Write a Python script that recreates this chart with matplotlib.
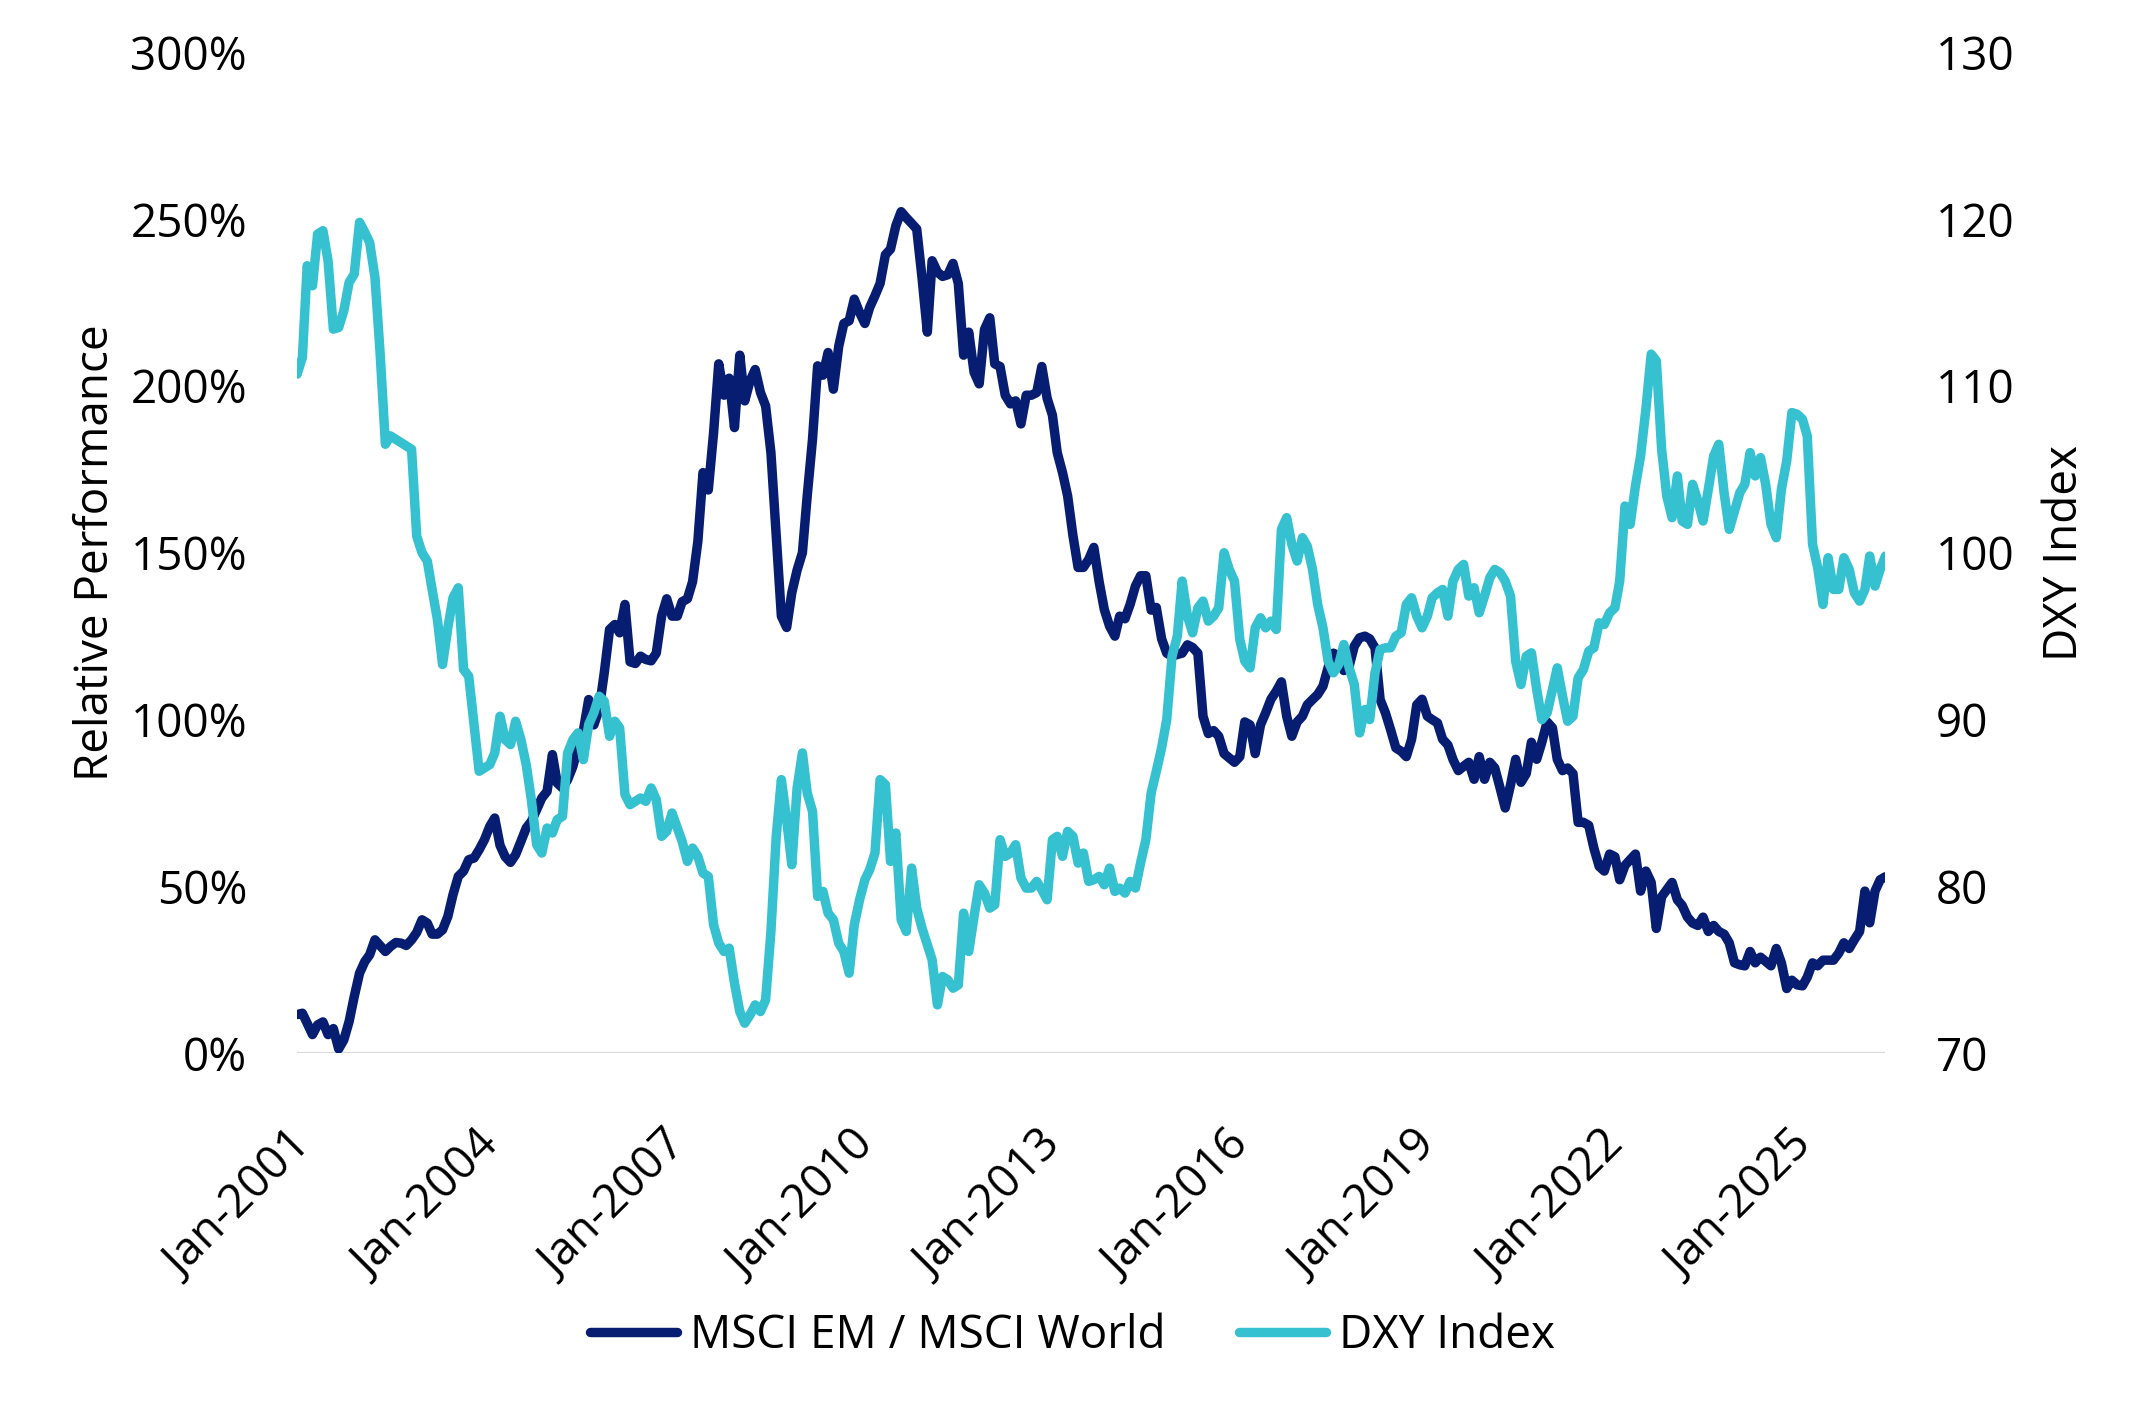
import matplotlib
matplotlib.use("Agg")
import matplotlib.pyplot as plt
import matplotlib.dates as mdates
import matplotlib.ticker as mticker
import matplotlib.transforms as mtrans
import pandas as pd

plt.rcParams['font.family'] = ['Open Sans', 'DejaVu Sans']

# monthly, Jan-2001 onwards
start_month = "2001-01"

# MSCI EM / MSCI World relative performance (%)
em_rel = [
    11.6, 12.0, 9.0, 5.6, 8.5, 9.4, 5.6, 7.4, 1.3, 4.0, 9.5, 17.0,
    24.0, 27.5, 29.5, 34.0, 32.3, 30.5, 32.0, 33.2, 33.0, 32.3, 34.0, 36.2,
    40.0, 39.0, 35.7, 35.7, 37.0, 41.0, 47.5, 53.0, 54.6, 58.0, 58.5, 61.0,
    64.0, 68.0, 70.5, 62.3, 58.9, 57.2, 59.5, 63.5, 67.5, 69.5, 73.0, 76.5,
    78.5, 89.5, 81.0, 79.5, 82.0, 86.0, 92.0, 96.7, 106.0, 98.4, 103.0, 114.0,
    127.0, 128.5, 126.0, 134.5, 117.3, 116.8, 119.0, 118.0, 117.6, 119.9, 131.0, 136.2,
    131.0, 131.0, 135.3, 136.2, 141.3, 153.4, 174.0, 168.8, 186.0, 206.6, 197.2, 202.3,
    187.5, 209.2, 195.5, 201.5, 204.9, 198.0, 194.0, 180.0, 155.0, 131.0, 127.6, 138.0,
    144.8, 150.0, 167.0, 184.0, 206.0, 203.2, 210.0, 199.0, 211.8, 218.7, 219.5, 226.0,
    222.0, 218.7, 223.5, 227.0, 230.7, 239.3, 241.0, 248.0, 252.2, 250.4, 248.7, 247.0,
    232.4, 216.1, 237.5, 234.1, 232.8, 233.3, 236.7, 230.7, 209.2, 216.1, 204.1, 200.6,
    216.9, 220.4, 206.6, 205.8, 197.2, 194.6, 195.5, 188.6, 197.2, 197.2, 198.0, 205.8,
    196.3, 191.2, 180.0, 174.0, 167.0, 155.1, 145.6, 145.6, 148.0, 151.6, 141.3, 133.0,
    128.0, 125.0, 131.0, 130.2, 134.5, 140.0, 143.1, 143.1, 132.8, 133.6, 124.2, 119.9,
    119.0, 119.5, 119.9, 122.4, 121.6, 119.9, 101.0, 95.8, 96.7, 95.0, 89.8, 88.5,
    87.2, 88.9, 99.3, 98.4, 89.8, 98.4, 102.0, 106.1, 108.5, 111.3, 101.0, 95.0,
    99.3, 101.0, 104.4, 106.0, 107.5, 110.0, 115.6, 119.9, 119.0, 114.7, 116.0, 122.0,
    124.5, 125.0, 124.2, 121.5, 106.0, 102.0, 97.0, 91.5, 90.5, 88.9, 94.1, 104.4,
    106.1, 101.0, 100.0, 99.0, 94.1, 92.4, 88.0, 84.7, 86.0, 87.2, 82.1, 88.9,
    82.1, 87.2, 85.5, 79.5, 73.5, 80.4, 88.1, 81.2, 83.8, 93.2, 88.1, 93.2,
    99.3, 97.5, 88.1, 84.7, 85.5, 83.8, 69.2, 69.2, 68.3, 61.5, 56.0, 54.6,
    59.7, 58.9, 52.0, 56.3, 58.0, 59.7, 48.6, 54.6, 51.2, 37.4, 46.9, 49.0,
    51.2, 46.0, 44.3, 40.8, 39.0, 38.3, 40.8, 36.5, 38.3, 36.5, 35.7, 33.1,
    27.1, 26.5, 26.2, 30.5, 27.1, 28.8, 27.5, 26.2, 31.4, 27.1, 19.4, 21.9,
    20.5, 20.2, 22.8, 27.1, 26.2, 27.9, 27.9, 27.9, 30.0, 33.1, 31.4, 34.0,
    36.5, 48.6, 39.1, 48.6, 52.0, 52.9,
]

# DXY Index level
dxy = [
    110.7, 111.7, 117.2, 116.0, 119.1, 119.3, 117.5, 113.4, 113.5, 114.5, 116.2, 116.7,
    119.8, 119.2, 118.6, 116.5, 112.0, 106.5, 107.0, 106.8, 106.6, 106.4, 106.2, 101.0,
    100.0, 99.5, 97.8, 96.0, 93.3, 95.5, 97.3, 97.9, 93.0, 92.6, 89.7, 86.9,
    87.1, 87.3, 88.0, 90.2, 88.8, 88.5, 89.9, 88.8, 87.3, 85.2, 82.5, 82.0,
    83.5, 83.2, 84.0, 84.2, 88.0, 88.8, 89.2, 87.6, 89.7, 90.4, 91.4, 91.1,
    89.0, 89.9, 89.5, 85.5, 84.9, 85.1, 85.3, 85.1, 85.9, 85.2, 83.0, 83.3,
    84.4, 83.5, 82.7, 81.5, 82.3, 81.8, 80.8, 80.6, 77.7, 76.6, 76.1, 76.3,
    74.2, 72.5, 71.8, 72.3, 72.9, 72.5, 73.2, 77.3, 83.0, 86.4, 84.0, 81.3,
    85.9, 88.0, 85.6, 84.5, 79.4, 79.7, 78.4, 78.0, 76.6, 76.1, 74.8, 77.7,
    79.2, 80.4, 81.0, 82.0, 86.4, 86.1, 81.5, 83.2, 78.0, 77.3, 81.1, 78.7,
    77.5, 76.5, 75.6, 72.9, 74.6, 74.4, 73.9, 74.1, 78.4, 76.1, 78.2, 80.1,
    79.6, 78.7, 78.9, 82.8, 81.8, 82.0, 82.5, 80.5, 79.9, 79.9, 80.3, 79.8,
    79.2, 82.8, 83.0, 81.8, 83.3, 83.0, 81.4, 82.0, 80.3, 80.4, 80.6, 80.1,
    81.1, 79.7, 79.9, 79.6, 80.3, 79.9, 81.4, 82.8, 85.6, 86.9, 88.3, 90.0,
    93.8, 95.0, 98.3, 96.2, 95.2, 96.7, 97.1, 95.9, 96.2, 96.7, 100.0, 99.0,
    98.3, 94.8, 93.5, 93.1, 95.5, 96.1, 95.5, 95.9, 95.4, 101.4, 102.1, 100.5,
    99.5, 100.9, 100.4, 99.0, 96.9, 95.5, 93.5, 92.8, 93.3, 94.5, 93.1, 92.1,
    89.2, 90.6, 90.0, 92.8, 94.2, 94.3, 94.3, 95.0, 95.2, 96.9, 97.3, 96.2,
    95.5, 96.2, 97.3, 97.6, 97.8, 96.2, 98.3, 99.0, 99.3, 97.4, 97.9, 96.4,
    97.4, 98.5, 99.0, 98.8, 98.3, 97.4, 93.5, 92.1, 93.8, 94.0, 91.8, 90.0,
    90.4, 91.8, 93.1, 91.4, 89.9, 90.2, 92.5, 93.0, 94.1, 94.3, 95.8, 95.7,
    96.4, 96.7, 98.3, 102.8, 101.7, 104.0, 105.8, 108.6, 111.9, 111.5, 106.2, 103.4,
    102.1, 104.6, 101.9, 101.7, 104.1, 103.1, 101.9, 103.8, 105.8, 106.5, 103.6, 101.4,
    102.5, 103.6, 104.1, 106.0, 104.6, 105.7, 104.1, 101.7, 100.9, 103.8, 105.5, 108.4,
    108.3, 108.0, 107.0, 100.5, 99.1, 96.9, 99.7, 97.8, 97.8, 99.7, 99.0, 97.6,
    97.1, 97.8, 99.8, 98.0, 99.0, 99.8,
]

tick_years = [2001, 2004, 2007, 2010, 2013, 2016, 2019, 2022, 2025]

NAVY = "#061D72"
CYAN = "#36C1D1"
FS = 33

dates = pd.date_range(start_month, periods=len(em_rel), freq="MS")

fig = plt.figure(figsize=(21.45, 14.1), dpi=100)
ax = fig.add_axes([0.1385, 0.253, 0.7405, 0.710])
ax2 = ax.twinx()

l1, = ax.plot(dates, em_rel, color=NAVY, lw=6.8, solid_capstyle="round",
              solid_joinstyle="round", label="MSCI EM / MSCI World")
l2, = ax2.plot(dates, dxy, color=CYAN, lw=6.8, solid_capstyle="round",
               solid_joinstyle="round", label="DXY Index")

ax.set_xlim(dates[0], dates[-1])
ax.set_ylim(0, 300)
ax2.set_ylim(70, 130)
ax.set_yticks(range(0, 301, 50))
ax2.set_yticks(range(70, 131, 10))
ax.yaxis.set_major_formatter(mticker.FuncFormatter(lambda v, p: f"{v:.0f}%"))

ax.set_xticks([pd.Timestamp(f"{y}-01-01") for y in tick_years])
ax.xaxis.set_major_formatter(mdates.DateFormatter("Jan-%Y"))

for a in (ax, ax2):
    for s in a.spines.values():
        s.set_visible(False)
    a.tick_params(length=0, labelsize=FS, colors="#000000")

ax.axhline(0, color="#d9d9d9", lw=1.6, zorder=0)

ax.tick_params(axis="y", pad=36)
ax2.tick_params(axis="y", pad=36)
ax.tick_params(axis="x", pad=50)
shift = mtrans.ScaledTranslation(-8 / 100, 0, fig.dpi_scale_trans)
for lab in ax.get_xticklabels():
    lab.set_rotation(45)
    lab.set_ha("right")
    lab.set_va("top")
    lab.set_rotation_mode("anchor")
    lab.set_transform(lab.get_transform() + shift)

ax.set_ylabel("Relative Performance", fontsize=FS, labelpad=8)
ax2.set_ylabel("DXY Index", fontsize=FS, labelpad=20)

fig.legend(handles=[l1, l2], loc="lower center", bbox_to_anchor=(0.5, 0.007),
           ncol=2, frameon=False, fontsize=FS, handlelength=1.9,
           handletextpad=0.28, columnspacing=1.6)

fig.savefig("out.png", dpi=100)
